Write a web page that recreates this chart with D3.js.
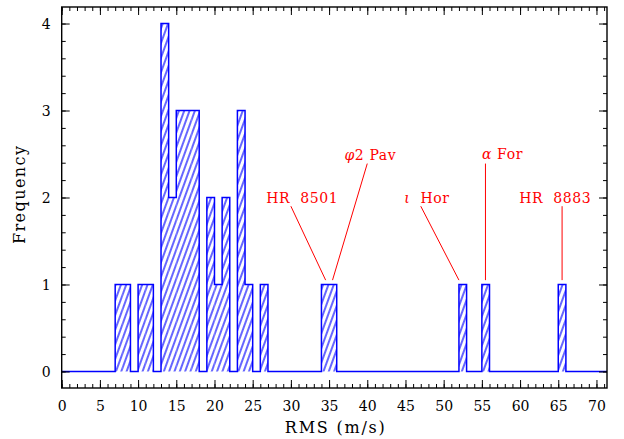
<!DOCTYPE html>
<html>
<head>
<meta charset="utf-8">
<script src="https://cdn.jsdelivr.net/npm/d3@7"></script>
<style>
  html, body { margin: 0; padding: 0; background: #fff; }
  svg { display: block; }
  text { font-family: "DejaVu Serif", "Liberation Serif", serif; }
</style>
</head>
<body>
<svg id="chart" width="624" height="439"></svg>
<script>
// ---- data ----
const binStarts = [7, 8, 10, 11, 13, 14, 15, 16, 17, 19, 20, 21, 23, 24, 26, 34, 35, 52, 55, 65];
const counts    = [1, 1, 1, 1, 4, 2, 3, 3, 3, 2, 1, 2, 3, 1, 1, 1, 1, 1, 1, 1];
const binWidth = 1;
const xTickValues = [0, 5, 10, 15, 20, 25, 30, 35, 40, 45, 50, 55, 60, 65, 70];
const yTickValues = [0, 1, 2, 3, 4];
const xLabel = "RMS (m/s)";
const yLabel = "Frequency";
// annotations (data coordinates)
const annoNames  = ["HR", "φ", "ι", "α", "HR"];
const annoRest   = ["  8501", "2 Pav", "  Hor", " For", "  8883"];
const annoTextX  = [31.5, 40.4, 47.8, 57.7, 64.6];
const annoTextY  = [1.937, 2.43, 1.937, 2.44, 1.937];
const annoLineX0 = [30.0, 40.0, 47.0, 55.47, 65.5];
const annoLineY0 = [1.90, 2.39, 1.90, 2.39, 1.90];
const annoLineX1 = [34.55, 35.45, 52.0, 55.47, 65.5];
const annoLineY1 = [1.05, 1.05, 1.05, 1.05, 1.05];

// ---- layout ----
const svg = d3.select("#chart");
const pL = 61.7, pR = 607, pT = 7, pB = 388;
const x = d3.scaleLinear().domain([0, 71.38]).range([pL, pR]);
const y = d3.scaleLinear().domain([-0.19, 4.19]).range([pB, pT]);

// hatch pattern
const defs = svg.append("defs");
const pat = defs.append("pattern")
  .attr("id", "hatch")
  .attr("patternUnits", "userSpaceOnUse")
  .attr("width", 5.0).attr("height", 10)
  .attr("patternTransform", "rotate(20)");
pat.append("line").attr("x1", 1).attr("y1", -1).attr("x2", 1).attr("y2", 11)
  .attr("stroke", "#0000ff").attr("stroke-width", 1.2);

const clip = defs.append("clipPath").attr("id", "plotclip");
clip.append("rect").attr("x", pL).attr("y", pT).attr("width", pR - pL).attr("height", pB - pT);

const g = svg.append("g").attr("clip-path", "url(#plotclip)");

// bar fills (hatched)
g.selectAll("rect.bin").data(binStarts).join("rect")
  .attr("class", "bin")
  .attr("x", (d) => x(d))
  .attr("width", (d) => x(d + binWidth) - x(d))
  .attr("y", (d, i) => y(counts[i]))
  .attr("height", (d, i) => y(0) - y(counts[i]))
  .attr("fill", "url(#hatch)");

// step outline
const countMap = new Map(binStarts.map((b, i) => [b, counts[i]]));
const pts = [[x.domain()[0], 0]];
for (let b = 0; b < 71; b += binWidth) {
  const c = countMap.get(b) || 0;
  pts.push([b, c]);
  pts.push([b + binWidth, c]);
}
pts.push([x.domain()[1], 0]);
g.append("path")
  .attr("d", d3.line().x((p) => x(p[0])).y((p) => y(p[1]))(pts))
  .attr("fill", "none")
  .attr("stroke", "#0000ff")
  .attr("stroke-width", 1.5);

// axes with inward ticks on four sides
const xMinor = d3.range(0, 72, 1);
const yMinor = d3.range(0, 4.01, 0.2);
function styleAxis(sel) {
  sel.select(".domain").remove();
  sel.selectAll(".tick line").attr("stroke", "#000").attr("stroke-width", 1);
}
const axB = svg.append("g").attr("transform", `translate(0,${pB})`);
axB.append("g").call(d3.axisBottom(x).tickValues(xMinor).tickSize(-4).tickFormat("")).call(styleAxis);
axB.append("g").call(d3.axisBottom(x).tickValues(xTickValues).tickSize(-8).tickFormat(d3.format("d")))
  .call(styleAxis)
  .call((s) => s.selectAll("text").attr("font-size", 14).attr("fill", "#000")
    .attr("font-family", "DejaVu Serif").attr("dy", "0.71em").attr("y", 13));
const axT = svg.append("g").attr("transform", `translate(0,${pT})`);
axT.append("g").call(d3.axisTop(x).tickValues(xMinor).tickSize(-4).tickFormat("")).call(styleAxis);
axT.append("g").call(d3.axisTop(x).tickValues(xTickValues).tickSize(-8).tickFormat("")).call(styleAxis);
const axL = svg.append("g").attr("transform", `translate(${pL},0)`);
axL.append("g").call(d3.axisLeft(y).tickValues(yMinor).tickSize(-4).tickFormat("")).call(styleAxis);
axL.append("g").call(d3.axisLeft(y).tickValues(yTickValues).tickSize(-8).tickFormat(d3.format("d")))
  .call(styleAxis)
  .call((s) => s.selectAll("text").attr("font-size", 14).attr("fill", "#000")
    .attr("font-family", "DejaVu Serif").attr("x", -11).attr("dy", "0.36em"));
const axR = svg.append("g").attr("transform", `translate(${pR},0)`);
axR.append("g").call(d3.axisRight(y).tickValues(yMinor).tickSize(-4).tickFormat("")).call(styleAxis);
axR.append("g").call(d3.axisRight(y).tickValues(yTickValues).tickSize(-8).tickFormat("")).call(styleAxis);

// frame
svg.append("rect")
  .attr("x", pL).attr("y", pT).attr("width", pR - pL).attr("height", pB - pT)
  .attr("fill", "none").attr("stroke", "#000").attr("stroke-width", 1.4);

// axis titles
svg.append("text")
  .attr("x", (pL + pR) / 2 + 0.5).attr("y", 433)
  .attr("text-anchor", "middle").attr("font-size", 16)
  .attr("textLength", 100).attr("lengthAdjust", "spacing")
  .attr("fill", "#000").text(xLabel);
svg.append("text")
  .attr("transform", `translate(25,${195}) rotate(-90)`)
  .attr("text-anchor", "middle").attr("font-size", 16)
  .attr("textLength", 98).attr("lengthAdjust", "spacing")
  .attr("fill", "#000").text(yLabel);

// annotations
annoNames.forEach((nm, i) => {
  svg.append("line")
    .attr("x1", x(annoLineX0[i])).attr("y1", y(annoLineY0[i]))
    .attr("x2", x(annoLineX1[i])).attr("y2", y(annoLineY1[i]))
    .attr("stroke", "#ff0000").attr("stroke-width", 1);
  const t = svg.append("text")
    .attr("x", x(annoTextX[i])).attr("y", y(annoTextY[i]))
    .attr("text-anchor", "middle").attr("font-size", 14)
    .attr("fill", "#ff0000").style("white-space", "pre")
    .attr("letter-spacing", 0.6);
  const greek = i >= 1 && i <= 3;
  t.append("tspan").attr("font-style", greek ? "italic" : "normal").text(nm);
  t.append("tspan").text(annoRest[i]);
});
</script>
</body>
</html>
